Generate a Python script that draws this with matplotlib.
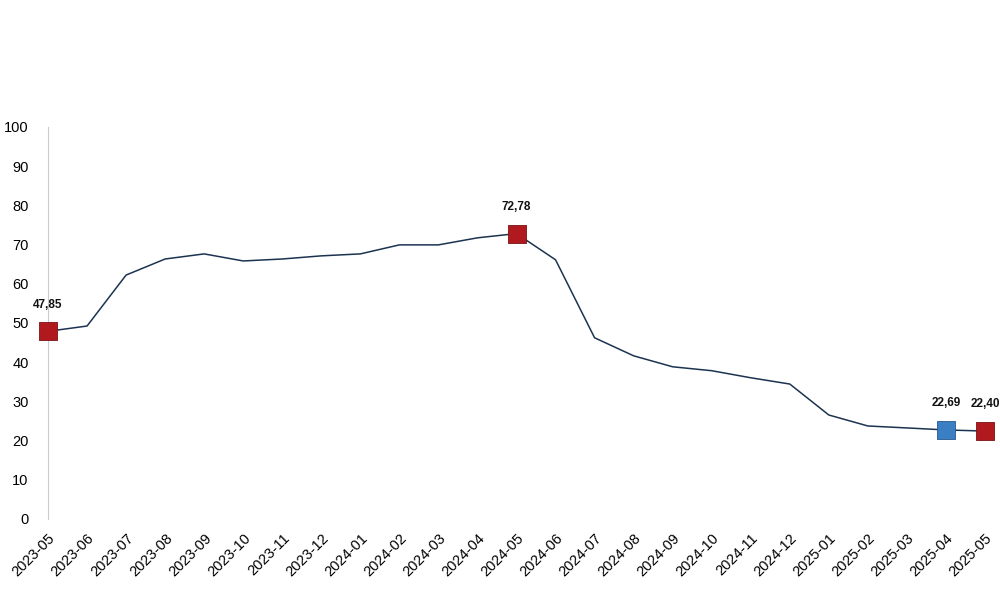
import matplotlib.pyplot as plt

plt.rcParams['font.family'] = ['Liberation Sans', 'DejaVu Sans']

months = ["2023-05", "2023-06", "2023-07", "2023-08", "2023-09", "2023-10", "2023-11",
          "2023-12", "2024-01", "2024-02", "2024-03", "2024-04", "2024-05", "2024-06",
          "2024-07", "2024-08", "2024-09", "2024-10", "2024-11", "2024-12", "2025-01",
          "2025-02", "2025-03", "2025-04", "2025-05"]
values = [47.85, 49.2, 62.2, 66.3, 67.6, 65.8, 66.3, 67.1, 67.6, 69.9, 69.9, 71.7,
          72.78, 66.1, 46.2, 41.6, 38.8, 37.8, 36.0, 34.4, 26.5, 23.7, 23.2, 22.69, 22.40]
red_idx = [0, 12, 24]
blue_idx = [23]
labels = {0: "47,85", 12: "72,78", 23: "22,69", 24: "22,40"}

fig = plt.figure(figsize=(10, 5.93), dpi=100)
ax = fig.add_axes([0.048, 0.125, 0.937, 0.661])
x = list(range(len(months)))
ax.plot(x, values, color="#1c3350", lw=1.1, zorder=2)
ax.scatter([x[i] for i in red_idx], [values[i] for i in red_idx], marker="s", s=165,
           color="#b01a1e", edgecolors="#7a1014", linewidths=0.6, zorder=3, clip_on=False)
ax.scatter([x[i] for i in blue_idx], [values[i] for i in blue_idx], marker="s", s=165,
           color="#3a7fc4", edgecolors="#26578a", linewidths=0.6, zorder=3, clip_on=False)
for i, t in labels.items():
    ax.annotate(t, (x[i], values[i]), xytext=(0, 17), textcoords="offset points",
                ha="center", fontsize=8.5, fontweight="bold", color="#111111")

ax.set_xlim(0, 24)
ax.set_ylim(0, 100)
ax.set_yticks(range(0, 101, 10))
ax.set_xticks(x)
ax.set_xticklabels(months, rotation=45, ha="right", rotation_mode="anchor", fontsize=10.5)
ax.tick_params(axis="y", labelsize=10.5, length=0, pad=14)
ax.tick_params(axis="x", length=0, pad=9)
for s in ["top", "right", "bottom"]:
    ax.spines[s].set_visible(False)
ax.spines["left"].set_color("#cccccc")
fig.savefig("out.png", dpi=100)
